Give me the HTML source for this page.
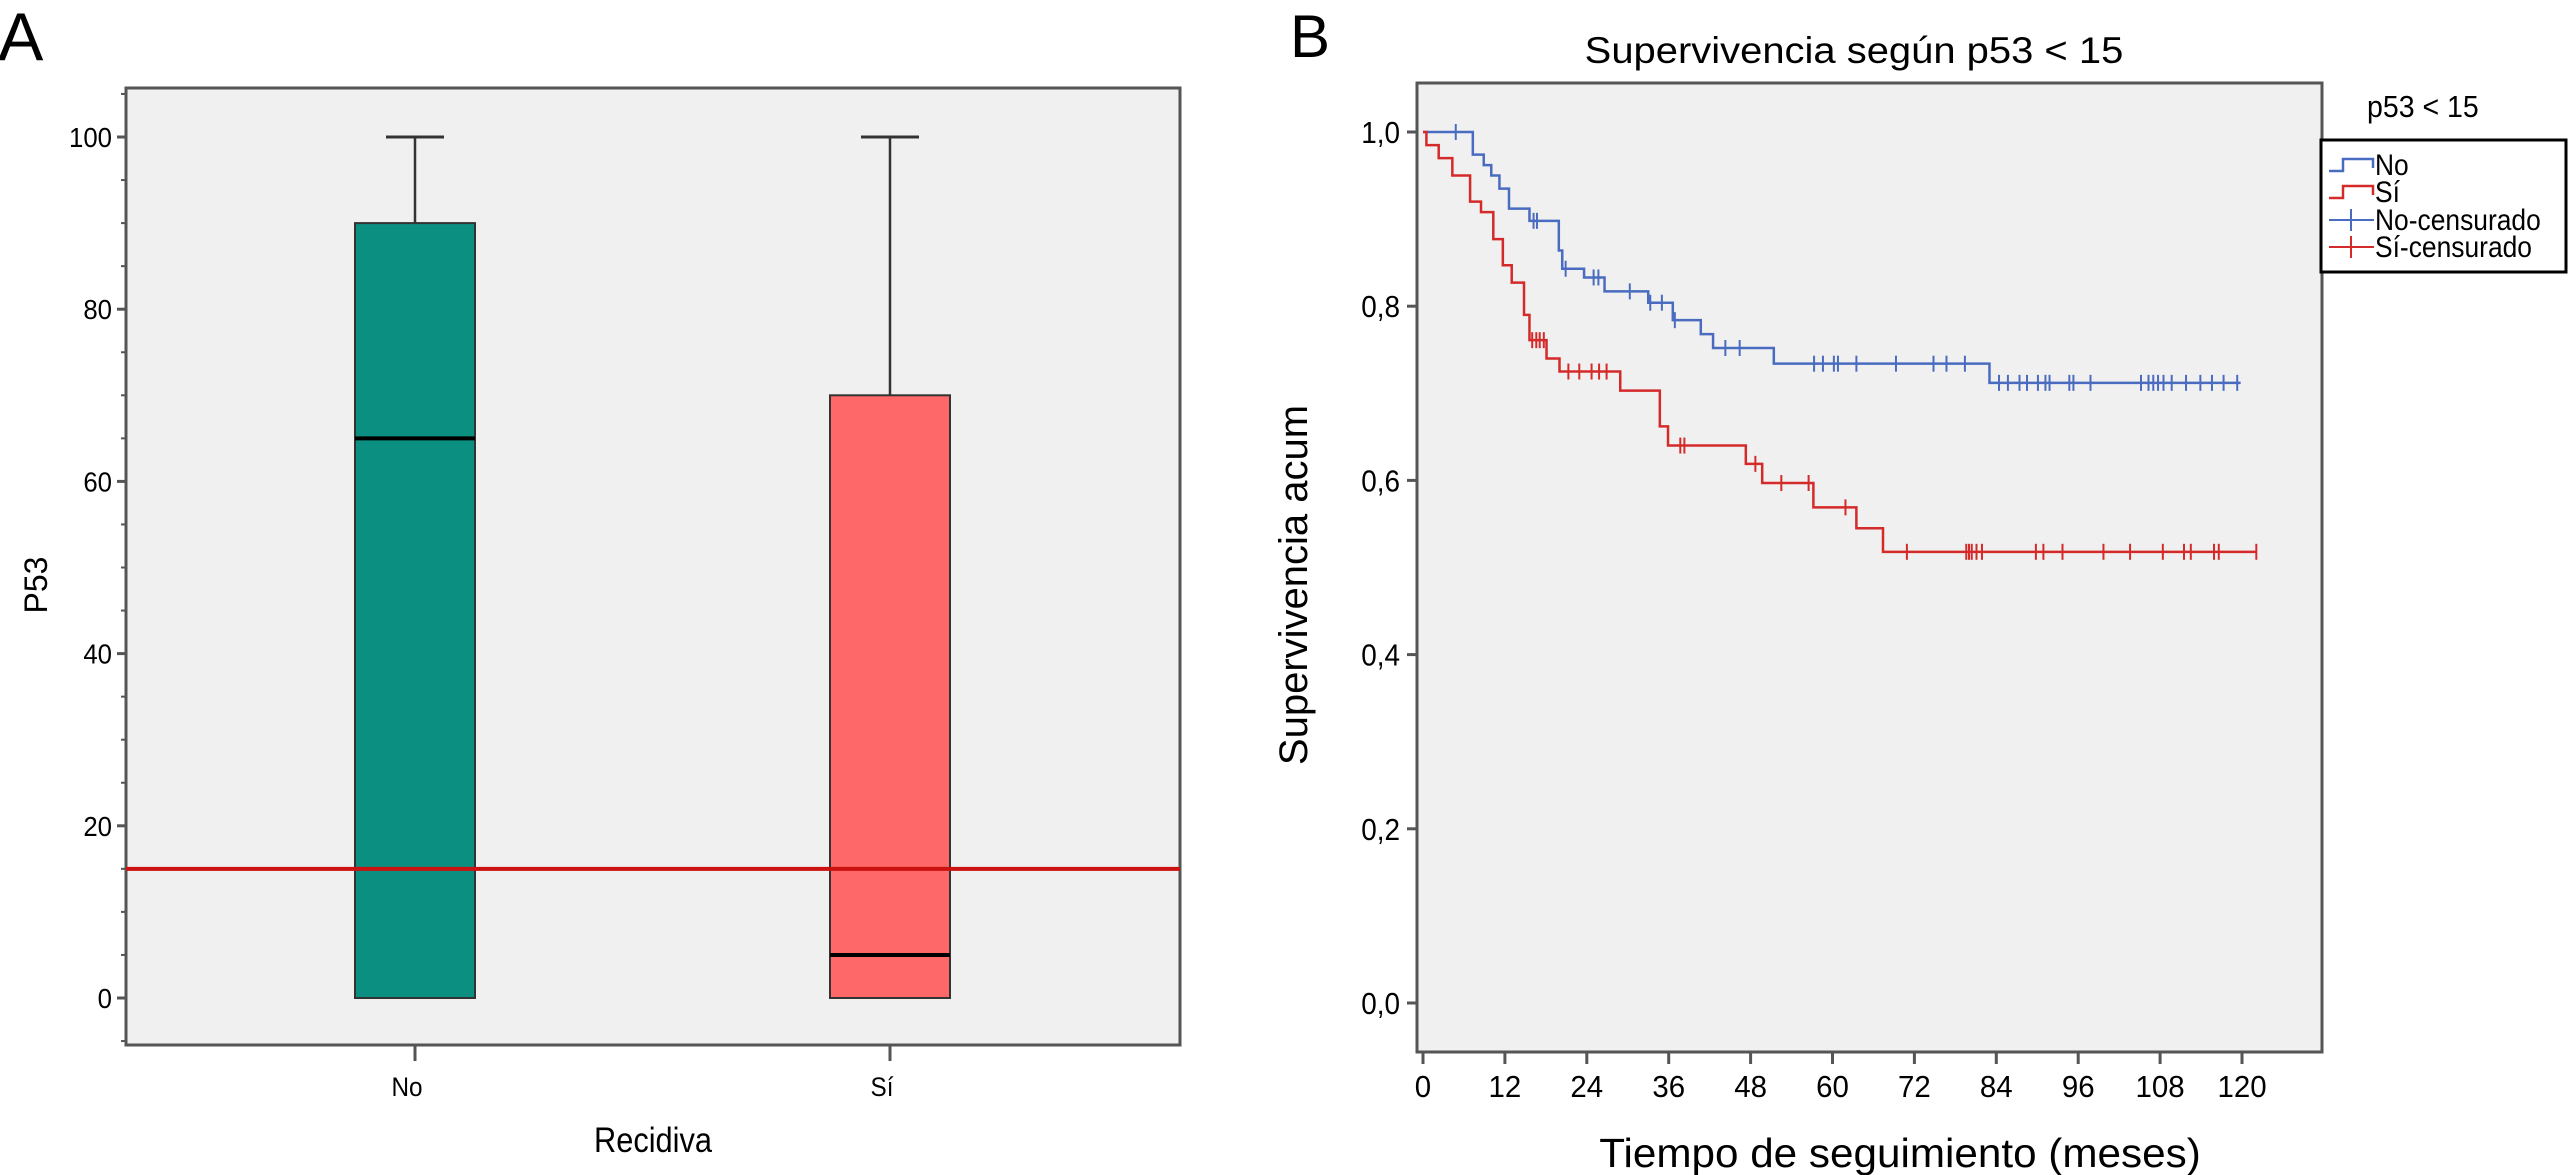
<!DOCTYPE html>
<html><head><meta charset="utf-8"><style>
html,body{margin:0;padding:0;background:#fff;overflow:hidden;}
svg{display:block;}
text{font-family:"Liberation Sans",Arial,sans-serif;fill:#000;}
</style></head><body>
<svg id="c" width="2568" height="1175" viewBox="0 0 2568 1175" xmlns="http://www.w3.org/2000/svg"></svg>
<script>
// ---- Panel A data ----
const boxCategories = ["No", "Sí"];
const boxMin = [0, 0];
const boxQ1 = [0, 0];
const boxMedian = [65, 5];
const boxQ3 = [90, 70];
const boxMax = [100, 100];
const boxColors = ["#0a8f80", "#ff6868"];
const cutoffValue = 15;
const yTicksA = [0, 20, 40, 60, 80, 100];

// ---- Panel B data ----
const xTicksB = [0, 12, 24, 36, 48, 60, 72, 84, 96, 108, 120];
const yTicksB = [0, 0.2, 0.4, 0.6, 0.8, 1.0];
const yTickLabelsB = ["0,0", "0,2", "0,4", "0,6", "0,8", "1,0"];
const noStepTimes = [0, 7.3, 8.9, 10.0, 11.2, 12.6, 15.6, 19.9, 20.4, 23.6, 26.6, 33.0, 36.6, 40.7, 42.5, 51.4, 83.0];
const noStepSurv = [1.0, 0.974, 0.962, 0.95, 0.935, 0.912, 0.898, 0.864, 0.843, 0.833, 0.817, 0.804, 0.784, 0.768, 0.752, 0.734, 0.712];
const noEnd = 119.8;
const noCensored = [4.8,16.2,16.7,20.9,25.0,25.7,30.3,33.3,35.0,36.9,44.3,46.4,57.3,58.6,60.2,60.8,63.5,69.3,74.8,76.7,79.4,84.4,85.7,87.4,88.5,90.1,91.2,91.8,94.7,95.3,97.8,105.2,106.3,107.0,107.7,108.5,109.7,111.8,113.9,115.6,117.3,119.3];
const siStepTimes = [0, 0.5, 2.3, 4.3, 6.9, 8.5, 10.3, 11.7, 13.0, 14.8, 15.6, 18.1, 20.0, 28.9, 34.7, 35.9, 47.3, 49.7, 57.2, 63.5, 67.4];
const siStepSurv = [1.0, 0.985, 0.97, 0.95, 0.92, 0.908, 0.877, 0.847, 0.827, 0.79, 0.761, 0.74, 0.725, 0.703, 0.662, 0.64, 0.619, 0.597, 0.569, 0.545, 0.518];
const siEnd = 122.1;
const siCensored = [16.0,16.6,17.1,17.7,21.3,22.9,24.7,25.8,26.9,37.7,38.3,48.7,52.5,56.5,61.9,70.9,79.6,80.0,80.4,81.1,81.9,89.8,90.9,93.7,99.7,103.6,108.4,111.5,112.5,115.9,116.6,122.1];

const NS = "http://www.w3.org/2000/svg";
const svg = document.getElementById("c");
function el(tag, attrs, parent) {
  const e = document.createElementNS(NS, tag);
  for (const k in attrs) e.setAttribute(k, attrs[k]);
  (parent || svg).appendChild(e);
  return e;
}
function txt(x, y, s, size, anchor, sx, parent) {
  const g = el("g", {transform: `translate(${x},${y}) scale(${sx||1},1)`}, parent);
  const t = el("text", {x: 0, y: 0, "font-size": size, "text-anchor": anchor || "start"}, g);
  t.textContent = s;
  return t;
}

// ================= PANEL A =================
const A = {l: 126, t: 88, r: 1180, b: 1045, y0: 998, y100: 137};
const yA = v => A.y0 + (A.y100 - A.y0) * v / 100;
const xA = i => [415, 890][i];
const gA = el("g", {});


const lab = txt(-2, 60, "A", 68, "start", 1, gA);


const bgA = el("rect", {x: A.l, y: A.t, width: A.r - A.l, height: A.b - A.t, fill: "#f0f0f0", stroke: "#555", "stroke-width": 3}, gA);


for (let v = -5; v <= 105; v += 5) {
  const major = v % 20 === 0 && v >= 0 && v <= 100;
  const tk = el("line", {x1: A.l - (major ? 9 : 5), x2: A.l, y1: yA(v), y2: yA(v), stroke: "#555", "stroke-width": major ? 3 : 2}, gA);
  
  
}
yTicksA.forEach(v => {
  const t = txt(A.l - 14, yA(v) + 10, String(v), 28, "end", 0.92, gA);
  
  
});
const yt = txt(0, 0, "P53", 32, "middle", 1, gA);
yt.parentNode.setAttribute("transform", "translate(47,585) rotate(-90)");


const xt = txt(653, 1152, "Recidiva", 35, "middle", 0.88, gA);


boxCategories.forEach((c, i) => {
  const cx = xA(i), hw = 60, cw = 29;
  const tk = el("line", {x1: cx, x2: cx, y1: A.b, y2: A.b + 16, stroke: "#555", "stroke-width": 3}, gA);
  
  
  const tl = txt(cx - 8, 1096, c, 27, "middle", 0.9, gA);
  
  
  const wh = el("line", {x1: cx, x2: cx, y1: yA(boxMax[i]), y2: yA(boxQ3[i]), stroke: "#333", "stroke-width": 2.5}, gA);
  
  
  const cap = el("line", {x1: cx - cw, x2: cx + cw, y1: yA(boxMax[i]), y2: yA(boxMax[i]), stroke: "#333", "stroke-width": 3}, gA);
  
  
  const bx = el("rect", {x: cx - hw, y: yA(boxQ3[i]), width: hw * 2, height: yA(boxQ1[i]) - yA(boxQ3[i]), fill: boxColors[i], stroke: "#333", "stroke-width": 2}, gA);
  
  
  const md = el("line", {x1: cx - hw, x2: cx + hw, y1: yA(boxMedian[i]), y2: yA(boxMedian[i]), stroke: "#000", "stroke-width": 4}, gA);
  
  
});
const cut = el("line", {x1: A.l, x2: A.r, y1: yA(cutoffValue), y2: yA(cutoffValue), stroke: "#cc1111", "stroke-width": 4}, gA);



// ================= PANEL B =================
const B = {l: 1417, t: 83, r: 2322, b: 1052, x0: 1423, x120: 2242, y0: 1003, y1: 132};
const xB = m => B.x0 + (B.x120 - B.x0) * m / 120;
const yB = s => B.y0 + (B.y1 - B.y0) * s;
const gB = el("g", {});


const lb = txt(1290, 57, "B", 60, "start", 1, gB);


const ti = txt(1854, 63, "Supervivencia según p53 < 15", 37, "middle", 1.08, gB);


const bgB = el("rect", {x: B.l, y: B.t, width: B.r - B.l, height: B.b - B.t, fill: "#f0f0f0", stroke: "#555", "stroke-width": 3}, gB);


yTicksB.forEach((v, i) => {
  const tk = el("line", {x1: B.l - 10, x2: B.l, y1: yB(v), y2: yB(v), stroke: "#555", "stroke-width": 3}, gB);
  
  
  const t = txt(B.l - 17, yB(v) + 11, yTickLabelsB[i], 31, "end", 0.9, gB);
  
  
});
xTicksB.forEach(v => {
  const tk = el("line", {x1: xB(v), x2: xB(v), y1: B.b, y2: B.b + 12, stroke: "#555", "stroke-width": 3}, gB);
  
  
  const t = txt(xB(v), 1097, String(v), 31, "middle", 0.95, gB);
  
  
});
const xtb = txt(1900, 1167, "Tiempo de seguimiento (meses)", 41, "middle", 1.03, gB);


const ytb = txt(0, 0, "Supervivencia acum", 40, "middle", 1, gB);
ytb.parentNode.setAttribute("transform", "translate(1307,585) rotate(-90)");



function survAt(times, surv, t) {
  let s = surv[0];
  for (let i = 0; i < times.length; i++) if (times[i] <= t) s = surv[i];
  return s;
}
function drawKM(times, surv, end, cens, color, name) {
  let d = `M${xB(times[0])},${yB(surv[0])}`;
  for (let i = 1; i < times.length; i++) d += ` H${xB(times[i])} V${yB(surv[i])}`;
  d += ` H${xB(end)}`;
  const p = el("path", {d: d, fill: "none", stroke: color, "stroke-width": 2.5}, gB);
  
  
  cens.forEach(t => {
    const x = xB(t), y = yB(survAt(times, surv, t));
    const m = el("line", {x1: x, x2: x, y1: y - 8, y2: y + 8, stroke: color, "stroke-width": 2}, gB);
    
    
  });
}
drawKM(noStepTimes, noStepSurv, noEnd, noCensored, "#4a6cc0", "no");
drawKM(siStepTimes, siStepSurv, siEnd, siCensored, "#d42a2a", "si");

// legend
const lgT = txt(2367, 117, "p53 < 15", 31, "start", 0.92, gB);


const lgB = el("rect", {x: 2321, y: 140, width: 245, height: 132, fill: "#fff", stroke: "#000", "stroke-width": 3}, gB);


const entries = [["No", "#4a6cc0", "step"], ["Sí", "#d42a2a", "step"], ["No-censurado", "#4a6cc0", "cens"], ["Sí-censurado", "#d42a2a", "cens"]];
const entryY = [165, 192, 220, 247];
entries.forEach((e, i) => {
  const y = entryY[i];
  const g = el("g", {}, gB);
  
  
  if (e[2] === "step") {
    el("path", {d: `M2329,${y + 6} H2343 V${y - 6} H2373 V${y + 3}`, fill: "none", stroke: e[1], "stroke-width": 2.5}, g);
  } else {
    el("line", {x1: 2329, x2: 2374, y1: y, y2: y, stroke: e[1], "stroke-width": 2}, g);
    el("line", {x1: 2351, x2: 2351, y1: y - 11, y2: y + 11, stroke: e[1], "stroke-width": 2}, g);
  }
  txt(2375, y + 10, e[0], 30, "start", 0.88, g);
});
</script>
</body></html>
